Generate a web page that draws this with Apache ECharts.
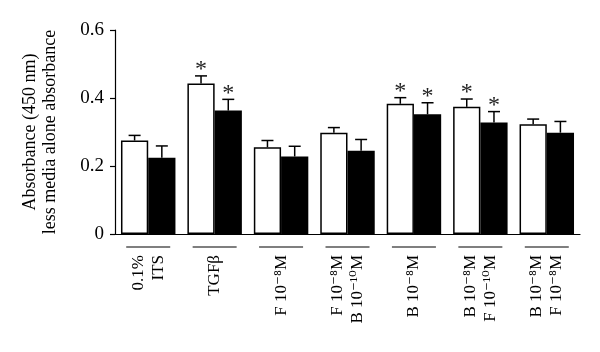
<!DOCTYPE html>
<html lang="en">
<head>
<meta charset="UTF-8">
<title>Absorbance (450 nm)</title>
<script src="https://cdn.jsdelivr.net/npm/echarts@6/dist/echarts.min.js"></script>
<style>
    html, body { margin: 0; padding: 0; background: #fff; }
    #chart { width: 600px; height: 352px; }
</style>
</head>
<body>
<div id="chart"></div>
<script>
    var categories = ['0.1%\nITS', 'TGFβ', 'F 10⁻⁸M', 'F 10⁻⁸M\nB 10⁻¹⁰M', 'B 10⁻⁸M', 'B 10⁻⁸M\nF 10⁻¹⁰M', 'B 10⁻⁸M\nF 10⁻⁸M'];
    var whiteValues = [0.275, 0.443, 0.255, 0.298, 0.383, 0.374, 0.323];
    var whiteErrors = [0.015, 0.022, 0.020, 0.015, 0.018, 0.023, 0.015];
    var blackValues = [0.224, 0.363, 0.228, 0.245, 0.352, 0.328, 0.298];
    var blackErrors = [0.035, 0.033, 0.030, 0.033, 0.034, 0.032, 0.033];
    var starred = [false, true, false, false, true, true, false];
    var yTicks = [0, 0.2, 0.4, 0.6];

    var serif = '"Liberation Serif", "DejaVu Serif", serif';
    var gapRatio = 0.18;

    // error bars (+ asterisk) drawn over each bar; side -1 = white bar, +1 = black bar
    function errorBars(values, errors, side) {
        return {
            type: 'custom',
            z: 4,
            silent: true,
            data: values.map(function (v, i) { return [i, v, errors[i], starred[i] ? 1 : 0]; }),
            encode: { x: 0, y: 1 },
            renderItem: function (params, api) {
                var i = api.value(0), v = api.value(1), e = api.value(2);
                var band = api.size([1, 0])[0];
                var bw = band * (1 - gapRatio) / 2;
                var base = api.coord([i, v]);
                var top = api.coord([i, v + e]);
                var x = base[0] + side * bw / 2;
                var kids = [
                    { type: 'line', shape: { x1: x, y1: base[1], x2: x, y2: top[1] }, style: { stroke: '#000', lineWidth: 1.5 } },
                    { type: 'line', shape: { x1: x - 6, y1: top[1], x2: x + 6, y2: top[1] }, style: { stroke: '#000', lineWidth: 1.5 } }
                ];
                if (api.value(3)) {
                    kids.push({
                        type: 'text',
                        style: { text: '*', x: x, y: top[1] - 18, align: 'center', verticalAlign: 'top', fontSize: 24, fontFamily: serif, fill: '#222' }
                    });
                }
                return { type: 'group', children: kids };
            }
        };
    }

    var chart = echarts.init(document.getElementById('chart'));
    chart.setOption({
        animation: false,
        backgroundColor: '#fff',
        grid: { left: 115, right: 20, top: 30, bottom: 118 },
        xAxis: {
            type: 'category',
            data: categories,
            axisLine: { lineStyle: { color: '#000', width: 1.2 } },
            axisTick: { alignWithLabel: true, length: 5, lineStyle: { color: '#000', width: 1.2 } },
            axisLabel: {
                rotate: 90, margin: 21, interval: 0,
                color: '#000', fontFamily: serif, fontSize: 17, lineHeight: 20
            }
        },
        yAxis: {
            type: 'value',
            min: 0, max: 0.6, interval: 0.2,
            name: 'Absorbance (450 nm)\nless media alone absorbance',
            nameLocation: 'middle',
            nameRotate: 90,
            nameGap: 55,
            nameTextStyle: { color: '#000', fontFamily: serif, fontSize: 18, lineHeight: 20 },
            axisLine: { show: true, lineStyle: { color: '#000', width: 1.2 } },
            axisTick: { show: true, length: 5, lineStyle: { color: '#000', width: 1.2 } },
            splitLine: { show: false },
            axisLabel: {
                margin: 11, color: '#000', fontFamily: serif, fontSize: 19,
                formatter: function (v) { return yTicks.indexOf(v) === 0 ? '0' : v.toFixed(1); }
            }
        },
        series: [
            {
                type: 'bar', data: whiteValues, barGap: 0, barCategoryGap: (gapRatio * 100) + '%',
                itemStyle: { color: '#fff', borderColor: '#000', borderWidth: 1.5 }
            },
            {
                type: 'bar', data: blackValues, barGap: 0, barCategoryGap: (gapRatio * 100) + '%',
                itemStyle: { color: '#000' }
            },
            errorBars(whiteValues, whiteErrors, -1),
            errorBars(blackValues, blackErrors, 1),
            {
                // short underline under each group
                type: 'custom',
                silent: true,
                data: categories.map(function (c, i) { return [i, 0]; }),
                encode: { x: 0, y: 1 },
                renderItem: function (params, api) {
                    var p = api.coord([api.value(0), 0]);
                    return {
                        type: 'line',
                        shape: { x1: p[0] - 22, y1: p[1] + 13, x2: p[0] + 22, y2: p[1] + 13 },
                        style: { stroke: '#000', lineWidth: 1.2 }
                    };
                }
            }
        ]
    });
</script>
</body>
</html>
